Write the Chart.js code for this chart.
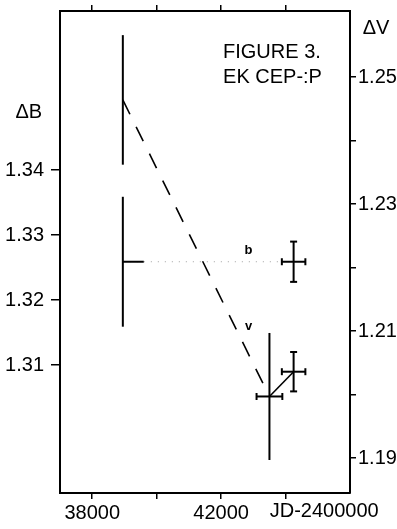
<!DOCTYPE html>
<html>
<head>
<meta charset="utf-8">
<script src="https://cdn.jsdelivr.net/npm/chart.js@4.4.0/dist/chart.umd.min.js"></script>
<style>
  html, body { margin: 0; padding: 0; background: #fff; }
  #wrap { width: 397px; height: 529px; }
</style>
</head>
<body>
<div id="wrap"><canvas id="fig3"></canvas></div>
<script>
// EK Cep - P : delta B (left) and delta V (right) against JD-2400000
var jdB = [38950, 44250];
var deltaB = [1.3259, 1.3259];
var errB = [0.0100, 0.0031];
var jdErrBLo = [0, 365];
var jdErrBHi = [650, 365];

var jdV = [38950, 43500, 44250];
var deltaV = [1.2464, 1.1997, 1.2036];
var errV = [0.0102, 0.0100, 0.0031];
var jdErrV = [0, 400, 365];

var jdTicks = [38000, 40000, 42000, 44000];
var jdLabels = ['38000', '', '42000', ''];
var bTicks = [1.31, 1.32, 1.33, 1.34];
var vTicks = [1.19, 1.20, 1.21, 1.22, 1.23, 1.24, 1.25];
var vLabels = ['1.19', '', '1.21', '', '1.23', '', '1.25'];

var FONT = "'Liberation Sans', Arial, sans-serif";

// text placed in data coordinates
var notes = [
  { text: 'FIGURE 3.', x: 42060, y: 1.2538, axis: 'yV', size: 20, align: 'left' },
  { text: 'EK CEP-:P', x: 42060, y: 1.2500, axis: 'yV', size: 20, align: 'left' },
  { text: 'b', x: 42850, y: 1.3276, axis: 'yB', size: 13, bold: true, align: 'center' },
  { text: 'v', x: 42850, y: 1.2108, axis: 'yV', size: 13, bold: true, align: 'center' },
  { text: '\u0394B', x: 36030, y: 1.3489, axis: 'yB', size: 20, align: 'center' },
  { text: '\u0394V', x: 46810, y: 1.2577, axis: 'yV', size: 20, align: 'center' },
  { text: 'JD-2400000', x: 45200, y: 1.2875, axis: 'yB', size: 20, align: 'center' }
];

function toPoints(xs, ys) {
  return xs.map(function(x, i) { return { x: x, y: ys[i] }; });
}

var errorBars = {
  id: 'errorBars',
  afterDatasetsDraw: function(chart) {
    var ctx = chart.ctx;
    var xs = chart.scales.x;
    function seg(x1, y1, x2, y2) {
      ctx.beginPath(); ctx.moveTo(x1, y1); ctx.lineTo(x2, y2); ctx.stroke();
    }
    ctx.save();
    ctx.strokeStyle = '#000';
    ctx.lineWidth = 2;
    chart.data.datasets.forEach(function(ds) {
      if (!ds.err) return;
      var ys = chart.scales[ds.yAxisID];
      ds.data.forEach(function(p, i) {
        var cx = xs.getPixelForValue(p.x);
        var cy = ys.getPixelForValue(p.y);
        var top = ys.getPixelForValue(p.y + ds.err.y[i]);
        var bot = ys.getPixelForValue(p.y - ds.err.y[i]);
        seg(cx, top, cx, bot);
        if (ds.err.y[i] < 0.005) {
          seg(cx - 3.5, top, cx + 3.5, top);
          seg(cx - 3.5, bot, cx + 3.5, bot);
        }
        var lo = ds.err.xLo[i], hi = ds.err.xHi[i];
        if (lo + hi > 0) {
          var left = xs.getPixelForValue(p.x - lo);
          var right = xs.getPixelForValue(p.x + hi);
          seg(left, cy, right, cy);
          if (lo > 0 && hi > 0) {
            seg(left, cy - 3.5, left, cy + 3.5);
            seg(right, cy - 3.5, right, cy + 3.5);
          }
        }
      });
    });
    ctx.restore();
  }
};

var textNotes = {
  id: 'textNotes',
  afterDraw: function(chart) {
    var ctx = chart.ctx;
    var xs = chart.scales.x;
    ctx.save();
    ctx.fillStyle = '#000';
    ctx.textBaseline = 'middle';
    notes.forEach(function(n) {
      ctx.font = (n.bold ? 'bold ' : '') + n.size + 'px ' + FONT;
      ctx.textAlign = n.align;
      ctx.fillText(n.text, xs.getPixelForValue(n.x), chart.scales[n.axis].getPixelForValue(n.y));
    });
    ctx.restore();
  }
};

function axisGrid(len) {
  return { drawOnChartArea: false, tickLength: len, color: '#000', lineWidth: 1.5 };
}
var frame = { color: '#000', width: 2 };

// fixed box sizes, no label overhang padding
function fixBox(w, h) {
  return function(s) {
    if (w !== null) s.width = w;
    if (h !== null) s.height = h;
    s.paddingTop = s.paddingBottom = s.paddingLeft = s.paddingRight = 0;
  };
}

var ctx = document.getElementById('fig3').getContext('2d');
var chart = new Chart(ctx, {
  type: 'scatter',
  data: {
    datasets: [{
      label: 'B',
      data: toPoints(jdB, deltaB),
      yAxisID: 'yB',
      showLine: true,
      borderColor: '#a0a0a0',
      borderWidth: 1,
      borderDash: [1, 6],
      pointRadius: 0,
      err: { y: errB, xLo: jdErrBLo, xHi: jdErrBHi }
    }, {
      label: 'V',
      data: toPoints(jdV, deltaV),
      yAxisID: 'yV',
      showLine: true,
      borderColor: '#000',
      borderWidth: 1.6,
      pointRadius: 0,
      segment: {
        borderDash: function(c) { return c.p0DataIndex === 0 ? [16, 14] : undefined; }
      },
      err: { y: errV, xLo: jdErrV, xHi: jdErrV }
    }]
  },
  options: {
    responsive: true,
    maintainAspectRatio: false,
    animation: false,
    layout: { padding: 0 },
    plugins: { legend: { display: false }, tooltip: { enabled: false } },
    scales: {
      x: {
        type: 'linear', position: 'bottom', min: 37000, max: 46000,
        afterBuildTicks: function(s) { s.ticks = jdTicks.map(function(v) { return { value: v }; }); },
        afterFit: fixBox(null, 36),
        ticks: {
          color: '#000', font: { size: 20, family: FONT }, padding: 2, maxRotation: 0,
          callback: function(v, i) { return jdLabels[i]; }
        },
        grid: axisGrid(6),
        border: frame
      },
      xTop: {
        type: 'linear', position: 'top', min: 37000, max: 46000,
        afterBuildTicks: function(s) { s.ticks = jdTicks.map(function(v) { return { value: v }; }); },
        afterFit: fixBox(null, 11),
        ticks: { callback: function() { return ''; } },
        grid: axisGrid(6),
        border: frame
      },
      yB: {
        type: 'linear', position: 'left', min: 1.2903, max: 1.3645,
        afterBuildTicks: function(s) { s.ticks = bTicks.map(function(v) { return { value: v }; }); },
        afterFit: fixBox(60, null),
        ticks: {
          color: '#000', font: { size: 20, family: FONT }, padding: 7,
          callback: function(v) { return v.toFixed(2); }
        },
        grid: axisGrid(9),
        border: frame
      },
      yV: {
        type: 'linear', position: 'right', min: 1.1845, max: 1.2604,
        afterBuildTicks: function(s) { s.ticks = vTicks.map(function(v) { return { value: v }; }); },
        afterFit: fixBox(47, null),
        ticks: {
          color: '#000', font: { size: 20, family: FONT }, padding: 2,
          callback: function(v, i) { return vLabels[i]; }
        },
        grid: axisGrid(6),
        border: frame
      }
    }
  },
  plugins: [errorBars, textNotes]
});
</script>
</body>
</html>
